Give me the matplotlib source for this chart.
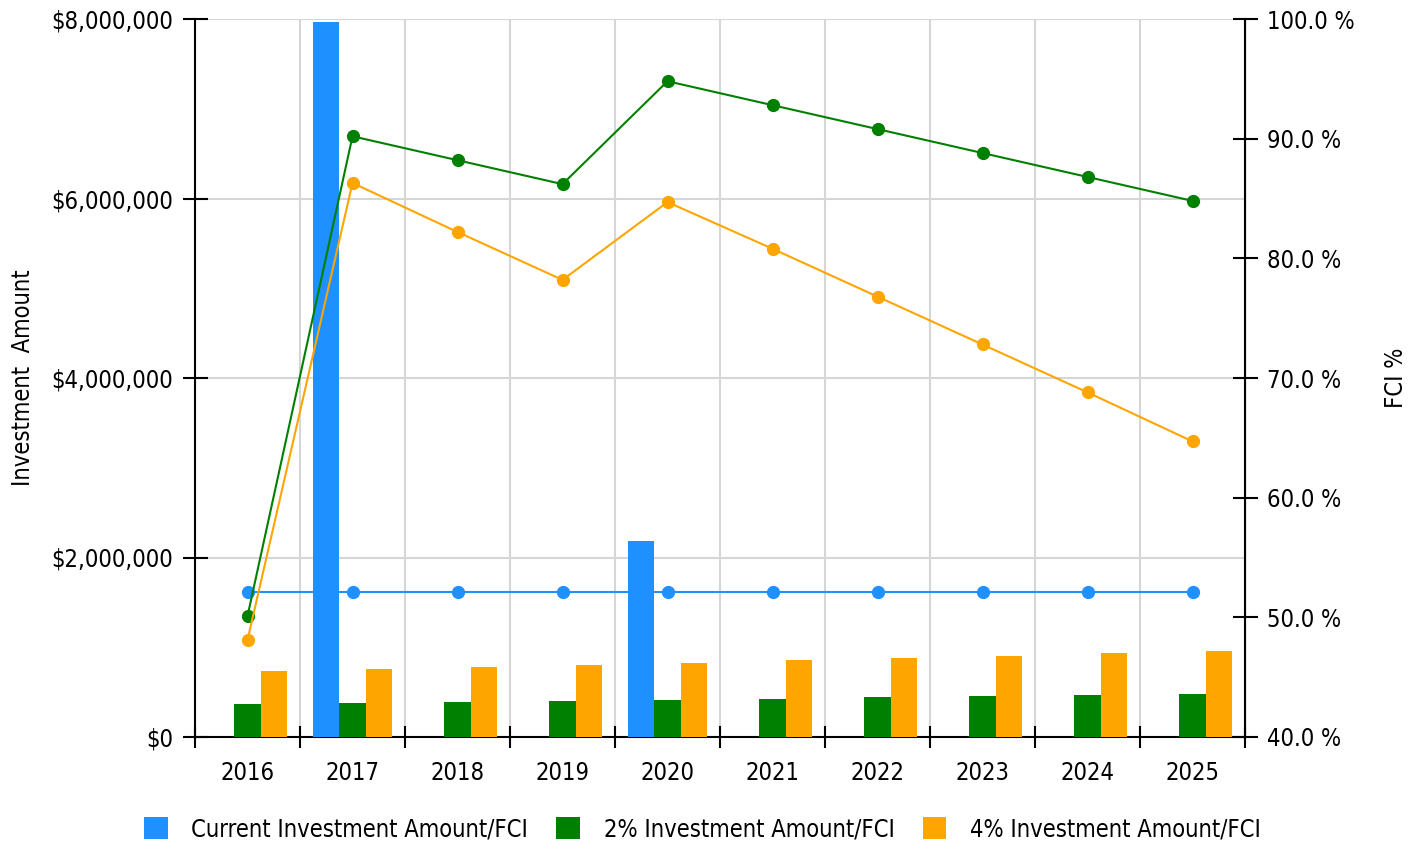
import numpy as np
import matplotlib
matplotlib.use("Agg")
import matplotlib.pyplot as plt
from matplotlib.ticker import FuncFormatter, FixedLocator

plt.rcParams['font.family'] = ['DejaVu Sans']
plt.rcParams['font.stretch'] = 'condensed'

years = ['2016', '2017', '2018', '2019', '2020', '2021', '2022', '2023', '2024', '2025']
current_amt = [0, 7970000, 0, 0, 2180000, 0, 0, 0, 0, 0]
amt_2pct = [368000, 379000, 390000, 401000, 412000, 423000, 446000, 457000, 468000, 479000]
amt_4pct = [735000, 758000, 780000, 802000, 824000, 858000, 880000, 902000, 936000, 958000]

fci_current = [52.1, 52.1, 52.1, 52.1, 52.1, 52.1, 52.1, 52.1, 52.1, 52.1]
fci_2pct = [50.1, 90.2, 88.2, 86.2, 94.8, 92.8, 90.8, 88.8, 86.8, 84.8]
fci_4pct = [48.1, 86.3, 82.2, 78.2, 84.7, 80.8, 76.8, 72.8, 68.8, 64.7]

c_blue = '#1e90ff'
c_green = '#008000'
c_orange = '#ffa500'
fs = 17

fig = plt.figure(figsize=(14.19, 8.44), dpi=100)
ax = fig.add_axes([195/1419, 1-737/844, 1050/1419, 718/844])
ax2 = ax.twinx()

x = np.arange(len(years))
w = 0.25
ax.bar(x - w, current_amt, w, color=c_blue, label='Current Investment Amount/FCI', zorder=3)
ax.bar(x, amt_2pct, w, color=c_green, label='2% Investment Amount/FCI', zorder=3)
ax.bar(x + w, amt_4pct, w, color=c_orange, label='4% Investment Amount/FCI', zorder=3)

ax2.plot(x, fci_current, color=c_blue, lw=1.5, marker='o', ms=8.5)
ax2.plot(x, fci_2pct, color=c_green, lw=1.5, marker='o', ms=8.5)
ax2.plot(x, fci_4pct, color=c_orange, lw=1.5, marker='o', ms=8.5)

ax.set_xlim(-0.5, len(years) - 0.5)
ax.set_ylim(0, 8000000)
ax2.set_ylim(40, 100)

ax.set_yticks([0, 2000000, 4000000, 6000000, 8000000])
ax.yaxis.set_major_formatter(FuncFormatter(lambda v, p: '${:,.0f}'.format(v)))
ax2.set_yticks([40, 50, 60, 70, 80, 90, 100])
ax2.yaxis.set_major_formatter(FuncFormatter(lambda v, p: '{:.1f} %'.format(v)))

# ticks at the category boundaries, labels at the centres
ax.xaxis.set_major_locator(FixedLocator(np.arange(-0.5, len(years), 1.0)))
ax.xaxis.set_minor_locator(FixedLocator(x))
ax.set_xticklabels([])
ax.set_xticklabels(years, minor=True)
ax.tick_params(axis='x', which='minor', length=0, pad=17, labelsize=fs)
ax.tick_params(axis='x', which='major', direction='inout', length=16, width=1.5)
ax.tick_params(axis='y', direction='inout', length=18, width=1.5, labelsize=fs, pad=7)
ax2.tick_params(axis='y', direction='inout', length=18, width=1.5, labelsize=fs, pad=7)

ax.grid(True, which='major', color='#d6d6d6', lw=1.5, zorder=0)
ax.set_axisbelow(True)

for s in ['top']:
    ax.spines[s].set_visible(False)
    ax2.spines[s].set_visible(False)
for s in ['left', 'bottom']:
    ax.spines[s].set_linewidth(1.5)
ax2.spines['right'].set_linewidth(1.5)
ax2.spines['left'].set_visible(False)
ax2.spines['bottom'].set_visible(False)

ax.set_ylabel('Investment  Amount', fontsize=fs)
ax.yaxis.set_label_coords(-0.152, 0.5)
ax2.set_ylabel('FCI %', fontsize=fs)
ax2.yaxis.set_label_coords(1.132, 0.5)

handles, labels = ax.get_legend_handles_labels()
fig.legend(handles, labels, loc='center', bbox_to_anchor=(0.495, 1-829/844), ncol=3,
           frameon=False, fontsize=fs, handlelength=1.0, handleheight=1.1,
           handletextpad=1.0, columnspacing=1.2)

fig.savefig('out.png', dpi=100)
